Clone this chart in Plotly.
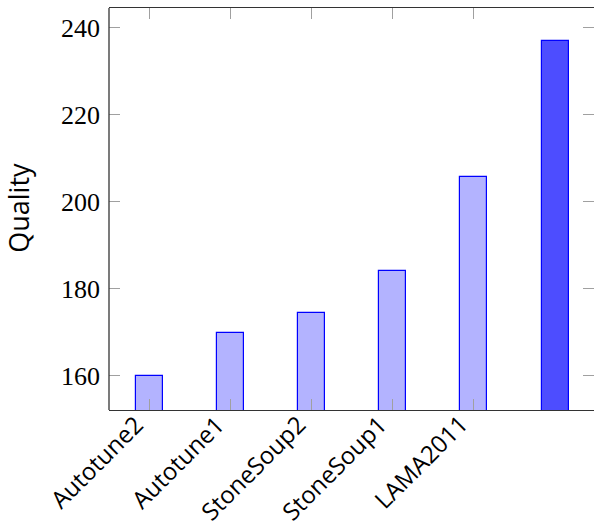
import plotly.graph_objects as go

# Planner quality scores
planners = ["Autotune2", "Autotune1", "StoneSoup2", "StoneSoup1", "LAMA2011", ""]
quality = [160.0, 169.9, 174.4, 184.1, 205.6, 236.9]
fill_colors = ["#b3b3ff"] * 5 + ["#4d4dff"]

y_ticks = [160, 180, 200, 220, 240]

positions = list(range(len(planners)))

fig = go.Figure()
fig.add_trace(go.Bar(
    x=positions,
    y=quality,
    width=0.333,
    marker=dict(color=fill_colors, line=dict(color="#0000ff", width=1.2)),
    showlegend=False,
))

fig.update_layout(
    width=594,
    height=526,
    margin=dict(l=109, r=0, t=8, b=116),
    plot_bgcolor="white",
    paper_bgcolor="white",
    bargap=0,
)

fig.update_xaxes(
    range=[-0.5, 5.48],
    tickmode="array",
    tickvals=positions[:5],
    ticktext=[""] * 5,
    ticks="inside",
    ticklen=11,
    tickcolor="#a0a0a0",
    tickwidth=1,
    showline=True,
    linecolor="#333333",
    linewidth=1.3,
    mirror="ticks",
    showgrid=False,
    zeroline=False,
)

fig.update_yaxes(
    range=[152.19, 244.5],
    tickmode="array",
    tickvals=y_ticks,
    ticktext=[str(v) for v in y_ticks],
    ticks="inside",
    ticklen=11,
    tickcolor="#a0a0a0",
    tickwidth=1,
    showline=False,
    mirror="ticks",
    showgrid=False,
    zeroline=False,
    ticklabelstandoff=8,
    tickfont=dict(family="Liberation Serif", size=26, color="black"),
)

# left spine
fig.add_shape(type="line", xref="paper", yref="paper", x0=0, x1=0, y0=0, y1=1,
              line=dict(color="#333333", width=1.3))

# rotated category labels, ending just below each bar
for pos, name in zip(positions, planners):
    if not name:
        continue
    fig.add_annotation(
        text=name, xref="x", yref="paper",
        x=pos, y=0, xanchor="right", yanchor="top",
        xshift=3, yshift=5,
        textangle=-45, showarrow=False,
        font=dict(family="Open Sans", size=24, color="black"),
    )

# y-axis label
fig.add_annotation(
    text="Quality", xref="paper", yref="paper",
    x=(19 - 109) / 485, y=0.503, xanchor="center", yanchor="middle",
    textangle=-90, showarrow=False,
    font=dict(family="Open Sans", size=27, color="black"),
)

fig.write_html("out.html")
